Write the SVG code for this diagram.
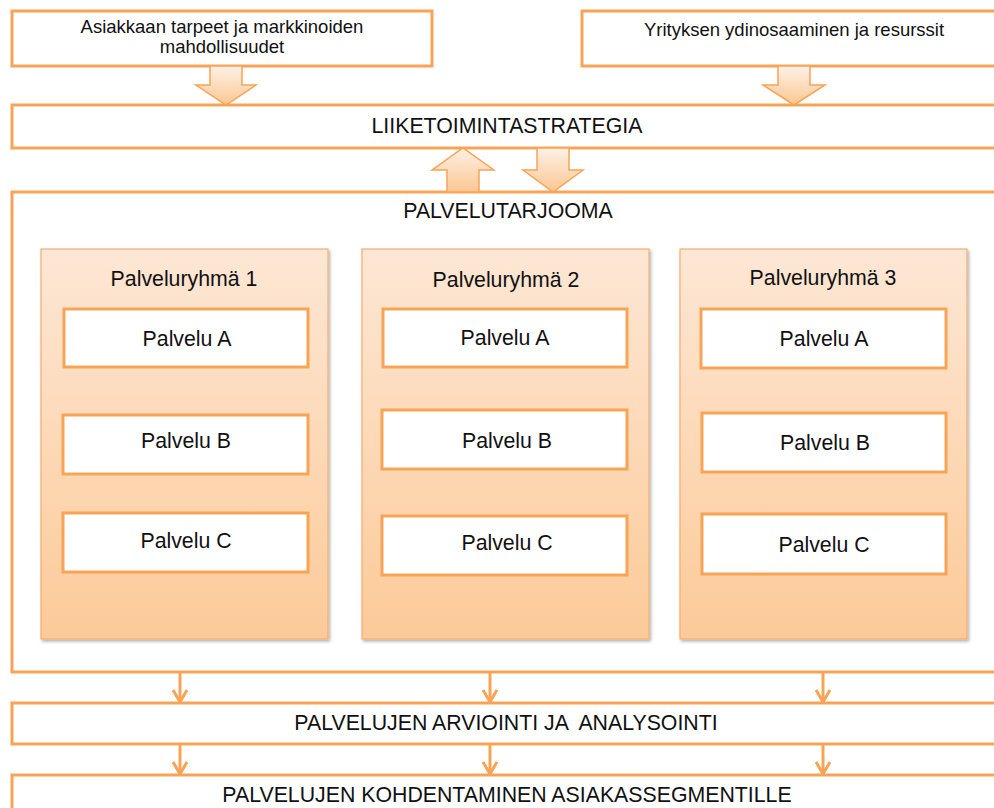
<svg xmlns="http://www.w3.org/2000/svg" width="994" height="808" viewBox="0 0 994 808">
  <defs>
    <linearGradient id="peach" x1="0" y1="0" x2="0" y2="1">
      <stop offset="0" stop-color="#fde7d5"/>
      <stop offset="1" stop-color="#fcca98"/>
    </linearGradient>
    <linearGradient id="arrowFill" x1="0" y1="0" x2="0" y2="1">
      <stop offset="0" stop-color="#fef1e5"/>
      <stop offset="1" stop-color="#fbc793"/>
    </linearGradient>
    <filter id="shadow" x="-5%" y="-5%" width="115%" height="115%">
      <feDropShadow dx="1.5" dy="2" stdDeviation="1.5" flood-color="#000" flood-opacity="0.3"/>
    </filter>
    <!-- open chevron head, drawn along +x so orient="auto" follows the line -->
    <marker id="chev" viewBox="0 0 14 16" refX="13" refY="8" markerWidth="14" markerHeight="16" markerUnits="userSpaceOnUse" orient="auto">
      <path d="M1,1 L13,8 L1,15" fill="none" stroke="#f8a456" stroke-width="3" stroke-linejoin="miter"/>
    </marker>
    <style>
      .box { fill: #ffffff; stroke: #f8a456; stroke-width: 3; }
      .group { fill: url(#peach); stroke: #f5ad72; stroke-width: 1.2; filter: url(#shadow); }
      .blk { fill: url(#arrowFill); stroke: #f8a456; stroke-width: 1.5; stroke-linejoin: miter; }
      .link { fill: none; stroke: #f8a456; stroke-width: 3; marker-end: url(#chev); }
      text { font-family: "Liberation Sans", Arial, sans-serif; fill: #111111; text-anchor: middle; }
      .t21 { font-size: 21.3px; }
      .t18 { font-size: 18.5px; }
    </style>
  </defs>

  <rect width="994" height="808" fill="#ffffff"/>

  <!-- inputs -->
  <g id="asiakastarpeet">
    <rect class="box" x="12" y="11" width="420" height="55"/>
    <text class="t18" x="222" y="33">Asiakkaan tarpeet ja markkinoiden</text>
    <text class="t18" x="222" y="53">mahdollisuudet</text>
  </g>
  <g id="ydinosaaminen">
    <rect class="box" x="582" y="11" width="430" height="55"/>
    <text class="t18" x="794" y="36">Yrityksen ydinosaaminen ja resurssit</text>
  </g>

  <!-- strategy -->
  <g id="liiketoimintastrategia">
    <rect class="box" x="12" y="105" width="1000" height="43"/>
    <text class="t21" x="507" y="133">LIIKETOIMINTASTRATEGIA</text>
  </g>

  <!-- service offering -->
  <g id="palvelutarjooma">
    <rect class="box" x="12" y="192" width="1000" height="480"/>
    <text class="t21" x="508" y="218">PALVELUTARJOOMA</text>
  </g>

  <g id="ryhma1">
    <rect class="group" x="41" y="249" width="287" height="390"/>
    <text class="t21" x="184" y="286">Palveluryhmä 1</text>
    <g id="ryhma1-a"><rect class="box" x="64" y="309" width="244" height="58"/><text class="t21" x="187" y="346">Palvelu A</text></g>
    <g id="ryhma1-b"><rect class="box" x="63" y="415" width="245" height="59"/><text class="t21" x="186" y="448">Palvelu B</text></g>
    <g id="ryhma1-c"><rect class="box" x="63" y="513" width="245" height="59"/><text class="t21" x="186" y="548">Palvelu C</text></g>
  </g>

  <g id="ryhma2">
    <rect class="group" x="362" y="249" width="287" height="390"/>
    <text class="t21" x="506" y="287">Palveluryhmä 2</text>
    <g id="ryhma2-a"><rect class="box" x="383" y="309" width="244" height="58"/><text class="t21" x="505" y="345">Palvelu A</text></g>
    <g id="ryhma2-b"><rect class="box" x="382" y="410" width="245" height="59"/><text class="t21" x="507" y="448">Palvelu B</text></g>
    <g id="ryhma2-c"><rect class="box" x="382" y="516" width="245" height="59"/><text class="t21" x="507" y="550">Palvelu C</text></g>
  </g>

  <g id="ryhma3">
    <rect class="group" x="680" y="249" width="287" height="390"/>
    <text class="t21" x="823" y="285">Palveluryhmä 3</text>
    <g id="ryhma3-a"><rect class="box" x="701" y="309" width="245" height="59"/><text class="t21" x="824" y="346">Palvelu A</text></g>
    <g id="ryhma3-b"><rect class="box" x="702" y="413" width="244" height="59"/><text class="t21" x="825" y="450">Palvelu B</text></g>
    <g id="ryhma3-c"><rect class="box" x="702" y="514" width="244" height="60"/><text class="t21" x="824" y="552">Palvelu C</text></g>
  </g>

  <!-- evaluation and targeting -->
  <g id="arviointi">
    <rect class="box" x="12" y="703" width="1000" height="41"/>
    <text class="t21" x="506" y="730" xml:space="preserve">PALVELUJEN ARVIOINTI JA  ANALYSOINTI</text>
  </g>
  <g id="kohdentaminen">
    <rect class="box" x="12" y="775" width="1000" height="50"/>
    <text class="t21" x="507" y="802">PALVELUJEN KOHDENTAMINEN ASIAKASSEGMENTILLE</text>
  </g>

  <!-- connectors -->
  <g id="connectors">
    <!-- block arrows -->
    <path class="blk" d="M210,66 H242 V85 H256 L226,105 L196,85 H210 Z"/>
    <path class="blk" d="M778,66 H810 V85 H825 L794,105 L763,85 H778 Z"/>
    <path class="blk" d="M447,192 V170 H432 L463,148 L494,170 H479 V192 Z"/>
    <path class="blk" d="M537,148 H569 V170 H583 L553,192 L523,170 H537 Z"/>
    <!-- thin arrows -->
    <line class="link" x1="180" y1="672" x2="180" y2="702"/>
    <line class="link" x1="490" y1="672" x2="490" y2="702"/>
    <line class="link" x1="823" y1="672" x2="823" y2="702"/>
    <line class="link" x1="180" y1="744" x2="180" y2="774"/>
    <line class="link" x1="490" y1="744" x2="490" y2="774"/>
    <line class="link" x1="823" y1="744" x2="823" y2="774"/>
  </g>
</svg>
